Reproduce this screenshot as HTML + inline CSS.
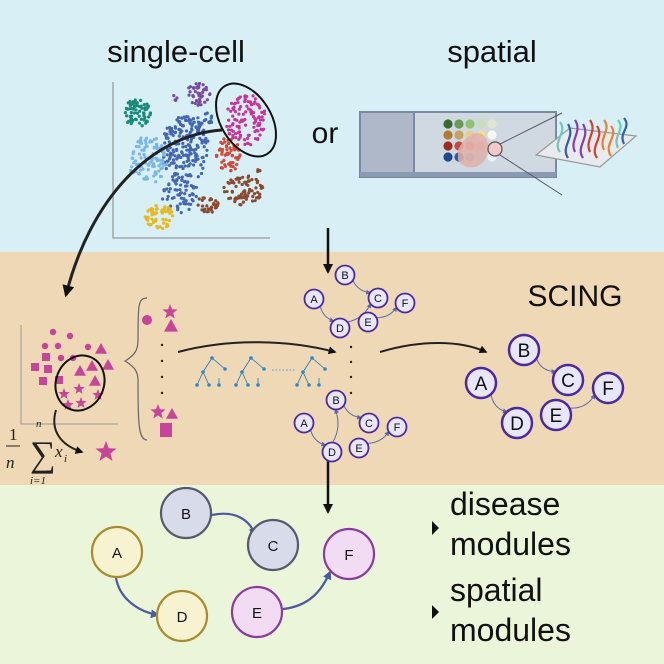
<!DOCTYPE html>
<html><head><meta charset="utf-8"><style>
body{margin:0;width:664px;height:664px;overflow:hidden;font-family:"Liberation Sans",sans-serif}
svg{display:block}
</style></head><body>
<svg id="s" width="664" height="664" viewBox="0 0 664 664" xmlns="http://www.w3.org/2000/svg">
<defs>
<marker id="ab" viewBox="0 0 10 10" refX="8" refY="5" markerWidth="4" markerHeight="4" orient="auto"><path d="M0,0L10,5L0,10z" fill="#111"/></marker>
<marker id="ap" viewBox="0 0 10 10" refX="8" refY="5" markerWidth="5" markerHeight="5" orient="auto"><path d="M0,0L10,5L0,10z" fill="#5a6aa8"/></marker>
<marker id="aq" viewBox="0 0 10 10" refX="8" refY="5" markerWidth="4" markerHeight="4" orient="auto"><path d="M0,0L10,5L0,10z" fill="#4a5aa0"/></marker>
</defs>
<rect x="0" y="0" width="664" height="252" fill="#d8eff5"/>
<rect x="0" y="252" width="664" height="233" fill="#efd8b6"/>
<rect x="0" y="485" width="664" height="179" fill="#ebf5da"/>

<text x="176" y="62" font-size="31" text-anchor="middle" fill="#111">single-cell</text>
<text x="492" y="62" font-size="31" text-anchor="middle" fill="#111">spatial</text>
<text x="325" y="143" font-size="30" text-anchor="middle" fill="#111">or</text>
<text x="575" y="306" font-size="30" text-anchor="middle" fill="#111">SCING</text>

<path d="M113,82V238H270" stroke="#999" stroke-width="1.3" fill="none"/>
<g id="dots"></g>
<ellipse cx="246" cy="120" rx="25" ry="40" transform="rotate(-32 246 120)" fill="none" stroke="#111" stroke-width="2"/>
<path d="M222,130 C150,135 90,200 66,295" stroke="#222" stroke-width="3" fill="none" marker-end="url(#ab)"/>

<!-- slide -->
<rect x="360" y="112" width="196" height="65" fill="#d0d8e2" stroke="#7a8aa0" stroke-width="2"/>
<rect x="360" y="112" width="54" height="65" fill="#aeb8c8" stroke="#7a8aa0" stroke-width="2"/>
<rect x="360" y="172" width="196" height="5" fill="#8a9ab2"/>
<g id="grid"></g>
<path d="M458,150 C470,125 490,130 488,150 C486,170 465,172 458,160z" fill="#e0b0a8" opacity="0.85"/>
<circle cx="495" cy="149" r="7" fill="#f2c8c8" stroke="#555" stroke-width="1.2"/>
<path d="M500,144L562,113M500,155L562,195" stroke="#556" stroke-width="1"/>
<path d="M536,155L570,128L636,136L600,167z" fill="#e8eaee" stroke="#999" stroke-width="1.2"/>
<g fill="none" stroke-width="2.2">
<path d="M560,152c-8,-10 8,-20 0,-30" stroke="#6cc8b8"/>
<path d="M568,158c-8,-12 8,-20 0,-34" stroke="#2a60b0"/>
<path d="M575,152c-6,-12 8,-20 0,-32" stroke="#8040b0"/>
<path d="M583,158c-8,-12 8,-20 0,-34" stroke="#8040b0"/>
<path d="M590,152c-6,-12 8,-20 0,-32" stroke="#d04030"/>
<path d="M597,158c-8,-12 8,-20 0,-32" stroke="#d04030"/>
<path d="M604,150c-6,-12 8,-20 0,-30" stroke="#e88030"/>
<path d="M611,156c-8,-12 8,-20 0,-30" stroke="#e88030"/>
<path d="M618,148c-6,-12 8,-18 0,-28" stroke="#6cc8b8"/>
<path d="M624,144c-6,-12 8,-16 0,-26" stroke="#2a60b0"/>
</g>

<path d="M328,228V272" stroke="#111" stroke-width="2.5" marker-end="url(#ab)"/>
<path d="M328,455V512" stroke="#111" stroke-width="2.5" marker-end="url(#ab)"/>

<!-- left scatter -->
<path d="M21,325V424H118" stroke="#999" stroke-width="1" fill="none"/>
<g id="pink" fill="#c8449a"></g>
<ellipse cx="80" cy="383" rx="24" ry="28" transform="rotate(20 80 383)" fill="none" stroke="#111" stroke-width="2"/>
<path d="M56,410 C50,430 60,445 82,452" stroke="#222" stroke-width="2" fill="none" marker-end="url(#ab)"/>
<path d="M147,298 C138,298 138,305 138,340 C138,350 135,355 125,361 C135,367 138,372 138,380 C138,420 138,440 147,440" fill="none" stroke="#666" stroke-width="1.2"/>
<g font-family="Liberation Serif,serif" font-style="italic" fill="#222">
<text x="9" y="440" font-size="17" font-style="normal">1</text>
<line x1="6" y1="446" x2="20" y2="446" stroke="#222"/>
<text x="6" y="468" font-size="17">n</text>
<text x="30" y="466" font-size="36" font-style="normal">∑</text>
<text x="36" y="427" font-size="11">n</text>
<text x="30" y="484" font-size="11">i=1</text>
<text x="55" y="457" font-size="17">x</text><text x="64" y="462" font-size="11">i</text>
</g>
<g id="trees" stroke="#1f78b4" stroke-width="0.8" fill="#2a88d0"></g>
<g fill="#222" id="vd"></g>
<path d="M178,352 C230,338 290,340 335,352" stroke="#222" stroke-width="2" fill="none" marker-end="url(#ab)"/>
<path d="M380,352 C420,340 460,340 486,352" stroke="#222" stroke-width="2" fill="none" marker-end="url(#ab)"/>
<g id="graphs"></g>

<!-- bottom graph -->
<g font-size="15" text-anchor="middle" fill="#111" stroke-width="2.2">
<path d="M116,578 C120,600 140,612 158,615" stroke="#4a5aa0" fill="none" marker-end="url(#aq)"/>
<path d="M212,515 C235,510 250,520 255,535" stroke="#4a5aa0" fill="none" marker-end="url(#aq)"/>
<path d="M283,609 C310,606 322,590 330,572" stroke="#4a5aa0" fill="none" marker-end="url(#aq)"/>
<ellipse cx="117" cy="552" rx="25" ry="25" fill="#f7f2d0" stroke="#a98a2c"/>
<ellipse cx="182" cy="616" rx="25" ry="25" fill="#f7f2d0" stroke="#a98a2c"/>
<ellipse cx="186" cy="513" rx="25" ry="25" fill="#d8dcea" stroke="#555a6e"/>
<ellipse cx="273" cy="545" rx="25" ry="25" fill="#d8dcea" stroke="#555a6e"/>
<ellipse cx="257" cy="612" rx="25" ry="25" fill="#f2dcf4" stroke="#8a3aa0"/>
<ellipse cx="349" cy="554" rx="25" ry="25" fill="#f2dcf4" stroke="#8a3aa0"/>
<text x="117" y="558" stroke="none">A</text><text x="182" y="622" stroke="none">D</text>
<text x="186" y="519" stroke="none">B</text><text x="273" y="551" stroke="none">C</text>
<text x="257" y="618" stroke="none">E</text><text x="349" y="560" stroke="none">F</text>
</g>
<g font-size="32" fill="#111">
<text x="450" y="515">disease</text><text x="450" y="555">modules</text>
<text x="450" y="601">spatial</text><text x="450" y="641">modules</text>
</g>
<path d="M432,521L439,528L432,535z" fill="#111"/>
<path d="M432,605L439,612L432,619z" fill="#111"/>
</svg>
<script>
var NS="http://www.w3.org/2000/svg";
function el(p,t,a){var e=document.createElementNS(NS,t);for(var k in a)e.setAttribute(k,a[k]);p.appendChild(e);return e;}
var seed=7;function r(){seed=(seed*16807)%2147483647;return (seed-1)/2147483646;}
var D=document.getElementById("dots");
function cl(cx,cy,rx,ry,n,c){for(var i=0;i<n;i++){var a=r()*6.283,d=Math.sqrt(r());el(D,"circle",{cx:cx+Math.cos(a)*d*rx,cy:cy+Math.sin(a)*d*ry,r:1.6,fill:c});}}
cl(137,113,14,14,70,"#1a8a78");
cl(198,95,12,12,40,"#7a4aa0");cl(175,98,3,3,4,"#7a4aa0");
cl(185,150,24,34,200,"#4466b0");cl(180,195,18,18,60,"#4466b0");cl(205,120,8,8,15,"#4466b0");
cl(148,160,20,24,110,"#7ab6e8");
cl(246,120,20,26,110,"#c8349a");
cl(228,155,12,18,60,"#d04a3a");
cl(243,190,20,15,80,"#8a4a30");cl(207,205,12,8,30,"#8a4a30");cl(260,170,3,3,4,"#8a4a30");
cl(160,217,15,12,60,"#e8b820");
var G=document.getElementById("grid");
var cols=[["#3a6a30","#6a9a50","#90c070","#c8ddb8","#dde8cc"],["#b07a30","#c8a060","#e8cc90","#f0e090","#f8f8f0"],["#a02a20","#c04a40","#e08080","#f0a0a0","#f2c8c8"],["#1a4a8a","#2a5aa0","#8aaad8","#b0d0f0","#e8f0fa"]];
for(var j=0;j<4;j++)for(var i=0;i<5;i++)el(G,"circle",{cx:448+i*11,cy:124+j*11,r:4.6,fill:cols[j][i]});
var P=document.getElementById("pink");
function star(p,x,y,R){var s="";for(var i=0;i<10;i++){var a=-Math.PI/2+i*Math.PI/5,rr=i%2?R*0.42:R;s+=(i?"L":"M")+(x+rr*Math.cos(a)).toFixed(1)+","+(y+rr*Math.sin(a)).toFixed(1);}el(p,"path",{d:s+"z"});}
function tri(p,x,y,s){el(p,"path",{d:"M"+x+","+(y-s)+"L"+(x+s)+","+(y+s*0.8)+"L"+(x-s)+","+(y+s*0.8)+"z"});}
[[53,332],[70,336],[45,346],[58,346],[88,347],[61,358],[73,358]].forEach(function(q){el(P,"circle",{cx:q[0],cy:q[1],r:3.2});});
[[46,357],[35,367],[48,369],[43,381],[59,380]].forEach(function(q){el(P,"rect",{x:q[0]-4,y:q[1]-4,width:8,height:8});});
[[101,349],[92,366],[108,365],[80,371],[95,381]].forEach(function(q){tri(P,q[0],q[1],6);});
[[79,389],[64,394],[98,395],[68,405],[81,403]].forEach(function(q){star(P,q[0],q[1],6);});
star(P,106,452,11);
el(P,"circle",{cx:147,cy:320,r:5});star(P,170,312,8);tri(P,171,326,7);
star(P,158,412,8);tri(P,172,414,6);el(P,"rect",{x:160,y:423,width:12,height:14});
var T=document.getElementById("trees");
function tree(x0){var L=[[x0,385],[x0+12,385],[x0+22,385]];
 el(T,"path",{d:"M"+(x0+6)+",372L"+x0+",385M"+(x0+6)+",372L"+(x0+12)+",385M"+(x0+6)+",372L"+(x0+15)+",358L"+(x0+28)+",369M"+(x0+22)+",378L"+(x0+22)+",385",fill:"none"});
 [[x0,385],[x0+12,385],[x0+6,372],[x0+15,358],[x0+28,369],[x0+22,385]].forEach(function(q){el(T,"circle",{cx:q[0],cy:q[1],r:1.8,stroke:"none"});});}
tree(197);tree(236);tree(297);
el(T,"path",{d:"M272,370H295",stroke:"#2a88d0","stroke-dasharray":"1.5 2",fill:"none"});
var V=document.getElementById("vd");
[345,361,377,393].forEach(function(y){el(V,"circle",{cx:162,cy:y,r:1.2});});
[347,362,377,393].forEach(function(y){el(V,"circle",{cx:351,cy:y,r:1.2});});
var GR=document.getElementById("graphs");
function graph(N,R,fs,edges){edges.forEach(function(e){var a=N[e[0]],b=N[e[1]];var dx=b[0]-a[0],dy=b[1]-a[1],L=Math.hypot(dx,dy);
 el(GR,"path",{d:"M"+(a[0]+dx/L*R)+","+(a[1]+dy/L*R)+"Q"+((a[0]+b[0])/2-dy*0.15)+","+((a[1]+b[1])/2+dx*0.15)+" "+(b[0]-dx/L*R)+","+(b[1]-dy/L*R),stroke:"#5a6aa8","stroke-width":1,fill:"none","marker-end":"url(#ap)"});});
 for(var k in N){el(GR,"circle",{cx:N[k][0],cy:N[k][1],r:R,fill:"#e8e6fa",stroke:"#4a2aa0","stroke-width":R>12?2.5:1.8});var t=el(GR,"text",{x:N[k][0],y:N[k][1]+fs*0.36,"font-size":fs,"text-anchor":"middle",fill:"#111"});t.textContent=k;}}
graph({A:[314,299],B:[345,275],C:[378,298],D:[340,328],E:[368,322],F:[405,303]},9.5,11,[["A","D"],["D","C"],["B","C"],["E","F"]]);
graph({A:[304,423],B:[336,400],C:[369,423],D:[332,452],E:[359,448],F:[397,427]},9.5,11,[["A","D"],["D","B"],["B","C"],["E","F"]]);
graph({A:[481,383],B:[524,350],C:[568,380],D:[517,423],E:[556,415],F:[608,388]},15,19,[["A","D"],["B","C"],["E","F"]]);
</script>
</body></html>
